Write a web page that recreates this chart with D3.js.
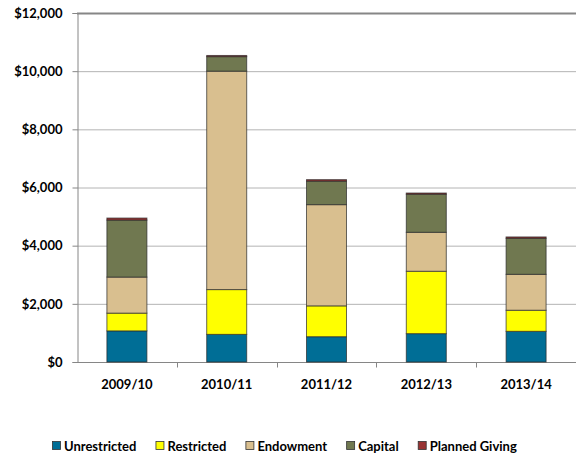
<!DOCTYPE html>
<html>
<head>
<meta charset="utf-8">
<title>Giving by Year</title>
<style type="text/css">
  body { margin: 0; background: #fff; }
  text { font-family: Lato, "Open Sans", sans-serif; font-weight: bold; fill: #000; }
</style>
<script src="https://d3js.org/d3.v7.min.js"></script>
</head>
<body>
<div id="chart"></div>
<script>
// categories and series
var years = ["2009/10", "2010/11", "2011/12", "2012/13", "2013/14"];
var seriesNames = ["Unrestricted", "Restricted", "Endowment", "Capital", "Planned Giving"];
var unrestricted = [1070, 950, 870, 975, 1055];
var restricted = [610, 1540, 1060, 2145, 725];
var endowment = [1240, 7510, 3480, 1340, 1235];
var capital = [1960, 500, 810, 1310, 1240];
var plannedGiving = [70, 40, 50, 40, 45];
var yTicks = [0, 2000, 4000, 6000, 8000, 10000, 12000];

var colors = ["#006E96", "#FFFF00", "#D9BF8F", "#707850", "#993333"];

var margin = {top: 13, right: 0, bottom: 97, left: 77},
    width = 576 - margin.left - margin.right,
    height = 459 - margin.top - margin.bottom;

// build rows for the stack
var rows = years.map(function(y, i) {
  return {
    year: y,
    "Unrestricted": unrestricted[i],
    "Restricted": restricted[i],
    "Endowment": endowment[i],
    "Capital": capital[i],
    "Planned Giving": plannedGiving[i]
  };
});
var stacked = d3.stack().keys(seriesNames)(rows);

var x = d3.scaleBand().domain(years).range([0, width]).paddingInner(0.4).paddingOuter(0.3);
var band = d3.scaleBand().domain(years).range([0, width]);
var y = d3.scaleLinear().domain([0, 12000]).range([height, 0]);

var svg = d3.select("#chart").append("svg")
  .attr("width", 576)
  .attr("height", 459);

var g = svg.append("g")
  .attr("transform", "translate(" + margin.left + "," + margin.top + ")");

// grid lines
g.append("g")
  .selectAll("line")
  .data(yTicks.filter(function(d) { return d > 0; }))
  .enter().append("line")
  .attr("x1", 0)
  .attr("x2", width)
  .attr("y1", function(d) { return y(d) + 0.5; })
  .attr("y2", function(d) { return y(d) + 0.5; })
  .attr("stroke", function(d) { return d === 12000 ? "#868686" : "#B4B4B4"; })
  .attr("stroke-width", function(d) { return d === 12000 ? 2 : 1; });

// y axis
var yAxis = d3.axisLeft(y)
  .tickValues(yTicks)
  .tickSize(5)
  .tickPadding(10)
  .tickFormat(function(d) { return "$" + d3.format(",")(d); });

var yg = g.append("g").attr("transform", "translate(0.5,0)").call(yAxis);
yg.select(".domain").attr("stroke", "#868686");
yg.selectAll(".tick line").attr("stroke", "#868686");
yg.selectAll("text").style("font-size", "13px");

// x axis
var xg = g.append("g").attr("transform", "translate(0," + (height + 0.5) + ")");
xg.append("line")
  .attr("x1", 0).attr("x2", width)
  .attr("stroke", "#868686");
xg.selectAll(".tk")
  .data(years.slice(1))
  .enter().append("line")
  .attr("class", "tk")
  .attr("x1", function(d) { return Math.round(band(d)) + 0.5; })
  .attr("x2", function(d) { return Math.round(band(d)) + 0.5; })
  .attr("y1", 0).attr("y2", 5)
  .attr("stroke", "#868686");
xg.selectAll("text")
  .data(years)
  .enter().append("text")
  .attr("x", function(d) { return band(d) + band.bandwidth() / 2; })
  .attr("y", 26)
  .attr("text-anchor", "middle")
  .style("font-size", "13px")
  .text(function(d) { return d; });

// stacked bars
var barW = 40;
var layers = g.append("g").selectAll("g")
  .data(stacked)
  .enter().append("g")
  .attr("fill", function(d, i) { return colors[i]; });

layers.selectAll("rect")
  .data(function(d) { return d; })
  .enter().append("rect")
  .attr("x", function(d) { return band(d.data.year) + (band.bandwidth() - barW) / 2; })
  .attr("y", function(d) { return y(d[1]); })
  .attr("width", barW)
  .attr("height", function(d) { return y(d[0]) - y(d[1]); })
  .attr("stroke", "#2a2a2a")
  .attr("stroke-opacity", 0.7)
  .attr("stroke-width", 1);

// legend
var legend = svg.append("g").attr("class", "legend")
  .attr("transform", "translate(52,446)");
var lx = 0;
seriesNames.forEach(function(name, i) {
  var item = legend.append("g").attr("transform", "translate(" + lx + ",0)");
  item.append("rect")
    .attr("x", 0.5).attr("y", -4.5)
    .attr("width", 8).attr("height", 8)
    .attr("fill", colors[i])
    .attr("stroke", "#333").attr("stroke-width", 0.8);
  var t = item.append("text")
    .attr("x", 12)
    .attr("y", 4.5)
    .style("font-size", "13px")
    .text(name);
  lx += 12 + t.node().getComputedTextLength() + 19;
});
</script>
</body>
</html>
